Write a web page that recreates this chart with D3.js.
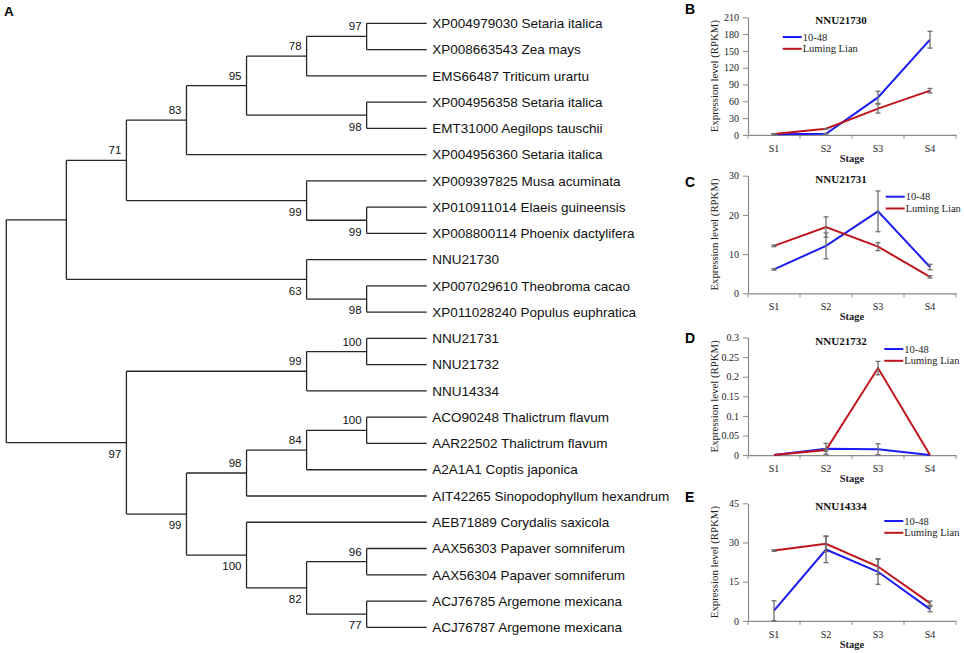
<!DOCTYPE html>
<html><head><meta charset="utf-8">
<script src="https://cdn.jsdelivr.net/npm/d3@7"></script>
<style>
html,body{margin:0;padding:0;background:#fff;}
svg{display:block;}
</style></head>
<body>
<svg id="fig" width="964" height="653"></svg>
<script>
// ---------- DATA ----------
const treeNewick = "(((((((XP004979030 Setaria italica,XP008663543 Zea mays)97,EMS66487 Triticum urartu)78,(XP004956358 Setaria italica,EMT31000 Aegilops tauschii)98)95,XP004956360 Setaria italica)83,(XP009397825 Musa acuminata,(XP010911014 Elaeis guineensis,XP008800114 Phoenix dactylifera)99)99)71,(NNU21730,(XP007029610 Theobroma cacao,XP011028240 Populus euphratica)98)63),(((NNU21731,NNU21732)100,NNU14334)99,((((ACO90248 Thalictrum flavum,AAR22502 Thalictrum flavum)100,A2A1A1 Coptis japonica)84,AIT42265 Sinopodophyllum hexandrum)98,(AEB71889 Corydalis saxicola,((AAX56303 Papaver somniferum,AAX56304 Papaver somniferum)96,(ACJ76785 Argemone mexicana,ACJ76787 Argemone mexicana)77)82)100)99)97);";

const stages = ["S1", "S2", "S3", "S4"];
const seriesNames = ["10-48", "Luming Lian"];
const geneTitles = ["NNU21730", "NNU21731", "NNU21732", "NNU14334"];

const nnu21730_1048 = [1, 2, 67, 170];
const nnu21730_1048_err = [0.5, 0.5, 11, 15];
const nnu21730_luming = [1.5, 11, 47, 79];
const nnu21730_luming_err = [0.5, 0.5, 8, 4];

const nnu21731_1048 = [6.1, 12.1, 20.9, 6.7];
const nnu21731_1048_err = [0.2, 3.3, 5.2, 0.7];
const nnu21731_luming = [12.1, 16.9, 11.9, 4.2];
const nnu21731_luming_err = [0.2, 2.6, 1.0, 0.3];

const nnu21732_1048 = [0, 0.016, 0.015, 0];
const nnu21732_1048_err = [0, 0.014, 0.014, 0];
const nnu21732_luming = [0, 0.013, 0.222, 0];
const nnu21732_luming_err = [0, 0.003, 0.017, 0];

const nnu14334_1048 = [3.9, 27.3, 18.8, 4.5];
const nnu14334_1048_err = [3.8, 5, 4.8, 1];
const nnu14334_luming = [26.9, 29.5, 20.8, 6.8];
const nnu14334_luming_err = [0.3, 3, 3, 0.8];

const ticksB = [0, 30, 60, 90, 120, 150, 180, 210];
const ticksC = [0, 10, 20, 30];
const ticksD = [0, 0.05, 0.1, 0.15, 0.2, 0.25, 0.3];
const ticksE = [0, 15, 30, 45];

// ---------- TREE ----------
function parseNewick(s) {
  let i = 0;
  function node() {
    const n = {};
    if (s[i] === "(") {
      i++;
      n.children = [];
      do { n.children.push(node()); } while (s[i++] === ",");
    }
    const start = i;
    while (i < s.length && !",();".includes(s[i])) i++;
    const label = s.slice(start, i).trim();
    if (n.children) n.support = label; else n.name = label;
    return n;
  }
  return node();
}

const svg = d3.select("#fig");
const root = d3.hierarchy(parseNewick(treeNewick));
const leaves = root.leaves();
const xTree = d3.scaleLinear().domain([root.height, 0]).range([6.3, 426.7]);
const yLeaf = d3.scaleLinear().domain([0, leaves.length - 1]).range([23.3, 627.3]);
leaves.forEach((l, i) => { l.py = yLeaf(i); });
root.eachAfter(n => {
  n.px = xTree(n.height);
  if (n.children) n.py = (n.children[0].py + n.children[n.children.length - 1].py) / 2;
});

const gTree = svg.append("g").attr("stroke", "#262626").attr("stroke-width", 1.3).attr("fill", "none");
root.each(n => {
  if (!n.children) return;
  const c0 = n.children[0], c1 = n.children[n.children.length - 1];
  gTree.append("line").attr("x1", n.px).attr("x2", n.px).attr("y1", c0.py).attr("y2", c1.py);
  n.children.forEach(c => {
    gTree.append("line").attr("x1", n.px).attr("x2", c.px).attr("y1", c.py).attr("y2", c.py);
  });
});

svg.append("g").selectAll("text").data(leaves).join("text")
  .attr("x", d => d.px + 5.5).attr("y", d => d.py).attr("dy", "0.35em")
  .attr("font-family", "Liberation Sans, Arial, sans-serif").attr("font-size", 13.5)
  .attr("fill", "#111").text(d => d.data.name);

const supports = root.descendants().filter(n => n.children && n.data.support && n.parent);
svg.append("g").selectAll("text").data(supports).join("text")
  .attr("x", d => d.px - 5)
  .attr("y", d => d.parent.children.indexOf(d) === 0 ? d.py - 6 : d.py + 15.3)
  .attr("text-anchor", "end")
  .attr("font-family", "Liberation Sans, Arial, sans-serif").attr("font-size", 11.5)
  .attr("fill", "#111").text(d => d.data.support);

svg.append("text").attr("x", 4).attr("y", 15.5).attr("font-family", "Liberation Sans, Arial, sans-serif")
  .attr("font-weight", "bold").attr("font-size", 13.5).text("A");

// ---------- LINE CHARTS ----------
const panels = [
  { letter: "B", title: geneTitles[0], ticks: ticksB, s1: nnu21730_1048, e1: nnu21730_1048_err, s2: nnu21730_luming, e2: nnu21730_luming_err, top: 17.3, letterY: 13.5, legX: 782.7, legDy: 19.7, fmt: d3.format("d") },
  { letter: "C", title: geneTitles[1], ticks: ticksC, s1: nnu21731_1048, e1: nnu21731_1048_err, s2: nnu21731_luming, e2: nnu21731_luming_err, top: 175.7, letterY: 187, legX: 885.7, legDy: 21, fmt: d3.format("d") },
  { letter: "D", title: geneTitles[2], ticks: ticksD, s1: nnu21732_1048, e1: nnu21732_1048_err, s2: nnu21732_luming, e2: nnu21732_luming_err, top: 337.5, letterY: 342.7, legX: 884.3, legDy: 11.5, fmt: d3.format("~g") },
  { letter: "E", title: geneTitles[3], ticks: ticksE, s1: nnu14334_1048, e1: nnu14334_1048_err, s2: nnu14334_luming, e2: nnu14334_luming_err, top: 503.3, letterY: 501.7, legX: 884.3, legDy: 17.7, fmt: d3.format("d") }
];
const colors = ["#1c1cf2", "#c0141c"];
const serif = "Liberation Serif, Times New Roman, serif";
const plotH = 117.6;
const x0 = 748, x1 = 956;

panels.forEach(p => {
  const g = svg.append("g");
  const bottom = p.top + plotH;
  const x = d3.scaleBand().domain(stages).range([x0, x1]);
  const y = d3.scaleLinear().domain([0, d3.max(p.ticks)]).range([bottom, p.top]);
  const cx = s => x(s) + x.bandwidth() / 2;

  // y axis
  const ya = g.append("g").attr("transform", `translate(${x0},0)`)
    .call(d3.axisLeft(y).tickValues(p.ticks).tickFormat(p.fmt).tickSize(5).tickSizeOuter(0).tickPadding(4));
  ya.select(".domain").attr("stroke", "#8a8a8a").attr("stroke-width", 1.2);
  ya.selectAll(".tick line").attr("stroke", "#8a8a8a");
  ya.selectAll(".tick text").attr("font-family", serif).attr("font-size", 10).attr("fill", "#222");

  // x axis
  const xa = g.append("g").attr("transform", `translate(0,${bottom})`)
    .call(d3.axisBottom(x).tickSize(0).tickPadding(10));
  xa.select(".domain").attr("stroke", "#8a8a8a").attr("stroke-width", 1.2);
  xa.selectAll(".tick text").attr("font-family", serif).attr("font-size", 10).attr("fill", "#222");
  const bounds = stages.map(s => x(s)).concat([x.range()[1]]);
  g.append("g").selectAll("line").data(bounds).join("line")
    .attr("x1", d => d).attr("x2", d => d).attr("y1", bottom).attr("y2", bottom + 4)
    .attr("stroke", "#8a8a8a").attr("stroke-width", 1);

  // labels
  g.append("text").attr("x", (x0 + x1) / 2).attr("y", bottom + 27).attr("text-anchor", "middle")
    .attr("font-family", serif).attr("font-weight", "bold").attr("font-size", 10.5).attr("fill", "#222").text("Stage");
  g.append("text").attr("transform", `translate(718,${p.top + plotH / 2}) rotate(-90)`).attr("text-anchor", "middle")
    .attr("font-family", serif).attr("font-size", 10.8).attr("fill", "#222").text("Expression level (RPKM)");
  g.append("text").attr("x", 841).attr("y", p.top + 7).attr("text-anchor", "middle")
    .attr("font-family", serif).attr("font-weight", "bold").attr("font-size", 11).attr("fill", "#111").text(p.title);
  g.append("text").attr("x", 685).attr("y", p.letterY).attr("font-family", "Liberation Sans, Arial, sans-serif")
    .attr("font-weight", "bold").attr("font-size", 14).attr("fill", "#000").text(p.letter);

  // series
  const series = [
    { name: seriesNames[0], vals: p.s1, errs: p.e1, color: colors[0] },
    { name: seriesNames[1], vals: p.s2, errs: p.e2, color: colors[1] }
  ];
  const line = d3.line().x(d => cx(d.s)).y(d => y(d.v));
  series.forEach(s => {
    const pts = stages.map((st, i) => ({ s: st, v: s.vals[i], e: s.errs[i] }));
    g.append("path").datum(pts).attr("d", line).attr("fill", "none")
      .attr("stroke", s.color).attr("stroke-width", 2).attr("stroke-linejoin", "miter");
  });
  series.forEach(s => {
    const pts = stages.map((st, i) => ({ s: st, v: s.vals[i], e: s.errs[i] })).filter(d => d.e > 0);
    const eg = g.append("g").attr("stroke", "#6e6e6e").attr("stroke-width", 1.3);
    eg.selectAll("line.v").data(pts).join("line").attr("class", "v")
      .attr("x1", d => cx(d.s)).attr("x2", d => cx(d.s))
      .attr("y1", d => y(d.v + d.e)).attr("y2", d => y(Math.max(0, d.v - d.e)));
    eg.selectAll("line.t").data(pts).join("line").attr("class", "t")
      .attr("x1", d => cx(d.s) - 2.5).attr("x2", d => cx(d.s) + 2.5)
      .attr("y1", d => y(d.v + d.e)).attr("y2", d => y(d.v + d.e));
    eg.selectAll("line.b").data(pts).join("line").attr("class", "b")
      .attr("x1", d => cx(d.s) - 2.5).attr("x2", d => cx(d.s) + 2.5)
      .attr("y1", d => y(Math.max(0, d.v - d.e))).attr("y2", d => y(Math.max(0, d.v - d.e)));
  });

  // legend
  series.forEach((s, i) => {
    const ly = p.top + p.legDy + i * 11.8;
    g.append("line").attr("x1", p.legX).attr("x2", p.legX + 19).attr("y1", ly).attr("y2", ly)
      .attr("stroke", s.color).attr("stroke-width", 2);
    g.append("text").attr("x", p.legX + 20).attr("y", ly).attr("dy", "0.35em")
      .attr("font-family", serif).attr("font-size", 10.5).attr("fill", "#222").text(s.name);
  });
});
</script>
</body></html>
